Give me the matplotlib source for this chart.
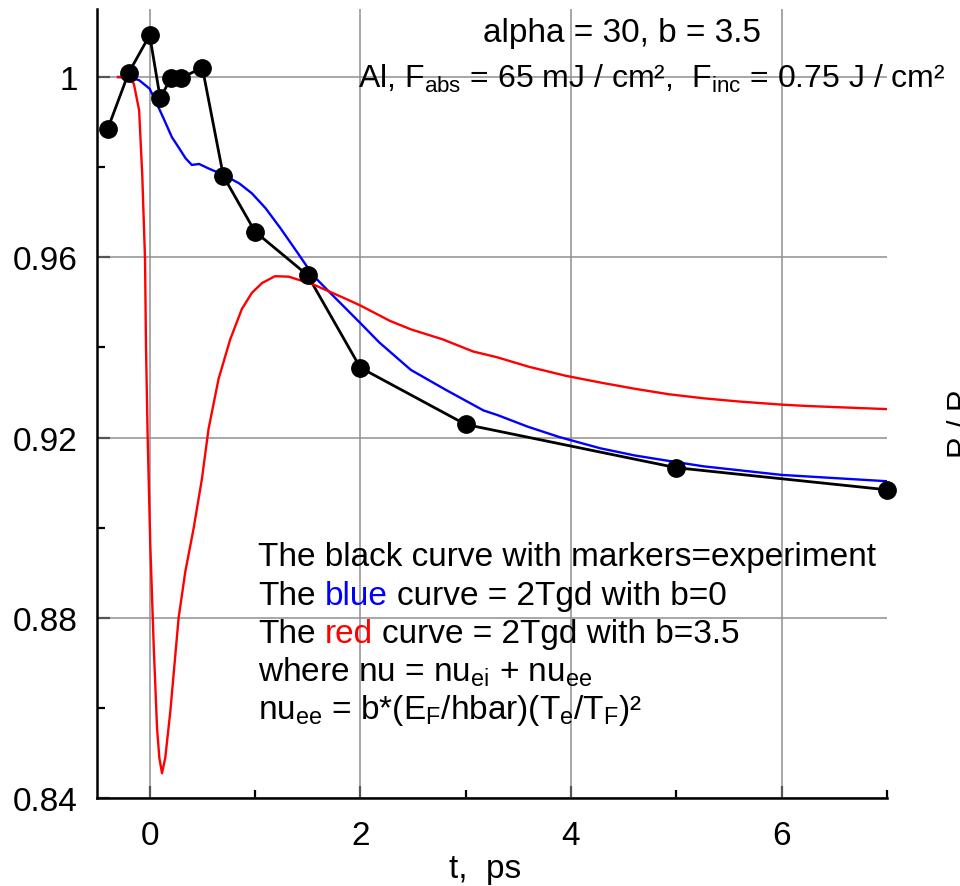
import matplotlib
matplotlib.use("Agg")
import matplotlib.pyplot as plt

plt.rcParams["font.family"] = ["Liberation Sans", "DejaVu Sans"]
plt.rcParams["mathtext.fontset"] = "custom"
plt.rcParams["mathtext.rm"] = "Liberation Sans"
plt.rcParams["mathtext.it"] = "Liberation Sans:italic"

# experiment (black with markers)
t_exp = [-0.4, -0.2, 0.0, 0.1, 0.2, 0.3, 0.5, 0.7, 1.0, 1.5, 2.0, 3.0, 5.0, 7.0]
r_exp = [0.9884, 1.0009, 1.0093, 0.9953, 0.9997, 0.9998, 1.0021, 0.9780,
         0.9657, 0.9560, 0.9355, 0.9229, 0.9133, 0.9084]

# 2Tgd, b = 0 (blue)
t_blue = [-0.30, -0.20, -0.10, 0.00, 0.06, 0.14, 0.21, 0.28, 0.34, 0.40, 0.47,
          0.56, 0.70, 0.85, 0.97, 1.10, 1.24, 1.41, 1.55, 1.71, 2.00, 2.18,
          2.48, 2.81, 3.17, 3.30, 3.59, 3.89, 4.28, 4.61, 4.93, 5.26, 6.00, 7.00]
r_blue = [1.0000, 1.0000, 0.9993, 0.9974, 0.9945, 0.9904, 0.9867, 0.9842,
          0.9820, 0.9805, 0.9807, 0.9797, 0.9783, 0.9764, 0.9742, 0.9709,
          0.9665, 0.9608, 0.9560, 0.9522, 0.9454, 0.9411, 0.9350, 0.9306,
          0.9260, 0.9250, 0.9224, 0.9201, 0.9176, 0.9160, 0.9148, 0.9136,
          0.9117, 0.9103]

# 2Tgd, b = 3.5 (red)
t_red = [-0.30, -0.20, -0.15, -0.10, -0.07, -0.044, -0.035, -0.019, 0.006,
         0.038, 0.07, 0.092, 0.117, 0.148, 0.196, 0.275, 0.338, 0.417, 0.496,
         0.559, 0.654, 0.765, 0.875, 0.97, 1.068, 1.19, 1.32, 1.55, 1.87,
         2.00, 2.28, 2.48, 2.78, 3.07, 3.30, 3.60, 3.95, 4.28, 4.61, 4.93,
         5.26, 5.59, 6.00, 6.24, 7.00]
r_red = [1.0000, 0.9999, 0.9985, 0.9926, 0.9780, 0.9595, 0.9404, 0.9200,
         0.8961, 0.8740, 0.8555, 0.8489, 0.8455, 0.8489, 0.8592, 0.8800,
         0.8902, 0.8998, 0.9108, 0.9219, 0.9330, 0.9418, 0.9485, 0.9521,
         0.9543, 0.9558, 0.9557, 0.9540, 0.9507, 0.9493, 0.9459, 0.9440,
         0.9418, 0.9391, 0.9378, 0.9357, 0.9337, 0.9322, 0.9308, 0.9296,
         0.9287, 0.9280, 0.9273, 0.9270, 0.9263]

x_major = [0, 2, 4, 6]
x_minor = [1, 3, 5, 7]
y_major = [0.84, 0.88, 0.92, 0.96, 1.0]
y_labels = ["0.84", "0.88", "0.92", "0.96", "1"]
y_minor = [0.86, 0.90, 0.94, 0.98]

W, H = 960, 887


def fx(px):
    return px / W


def fy(py):
    return 1 - py / H


fig = plt.figure(figsize=(9.6, 8.87), dpi=100)
ax = fig.add_axes([fx(97), fy(799), fx(887) - fx(97), fy(10) - fy(799)])

ax.plot(t_exp, r_exp, color="black", lw=2.0, zorder=3)
ax.plot(t_blue, r_blue, color="#0000ff", lw=1.7, zorder=4)
ax.plot(t_red, r_red, color="#ff0000", lw=1.7, zorder=5)
ax.plot(t_exp, r_exp, "o", color="black", ms=12.5, zorder=6, clip_on=False)

ax.set_xlim(-0.5, 7.0)
ax.set_ylim(0.84, 1.0151)

ax.set_xticks(x_major)
ax.set_xticks(x_minor, minor=True)
ax.set_yticks(y_major, labels=y_labels)
ax.set_yticks(y_minor, minor=True)

ax.tick_params(which="major", direction="in", length=9, width=1.6,
               color="#555555", labelsize=24)
ax.tick_params(which="minor", direction="in", length=6, width=1.6,
               color="black")
ax.tick_params(axis="y", which="major", pad=14)
ax.tick_params(axis="x", which="major", pad=16)

ax.grid(True, which="major", color="#909090", lw=1.1)
ax.set_axisbelow(True)

for side in ("top", "right"):
    ax.spines[side].set_visible(False)
for side in ("left", "bottom"):
    ax.spines[side].set_linewidth(1.8)

fig.text(fx(485), fy(878), "t,  ps", fontsize=24, ha="center", va="baseline")
fig.text(fx(946), fy(418), "R / R$_\\mathregular{0}$", fontsize=22,
         rotation=90, ha="left", va="center")

fs = 24
fig.text(fx(483), fy(42), "alpha = 30, b = 3.5", fontsize=fs, va="baseline")
fig.text(fx(358), fy(88),
         "Al, F$_\\mathregular{abs}$ = 65 mJ / cm\u00b2,  "
         "F$_\\mathregular{inc}$ = 0.75 J / cm\u00b2",
         fontsize=23, va="baseline")

gap = 6.7  # width of a space, points
x0 = fx(258)
fig.text(x0, fy(566), "The black curve with markers=experiment",
         fontsize=fs, va="baseline")

for base, word, color, rest in [(605, "blue", "#0000ff", "curve = 2Tgd with b=0"),
                                (643, "red", "#ff0000", "curve = 2Tgd with b=3.5")]:
    t1 = fig.text(x0, fy(base), "The", fontsize=fs, va="baseline")
    t2 = ax.annotate(word, xy=(1, 0), xycoords=t1, xytext=(gap, 0),
                     textcoords="offset points", fontsize=fs, color=color,
                     va="bottom")
    ax.annotate(rest, xy=(1, 0), xycoords=t2, xytext=(gap, 0),
                textcoords="offset points", fontsize=fs, va="bottom")

fig.text(x0, fy(682),
         "where nu = nu$_\\mathregular{ei}$ + nu$_\\mathregular{ee}$",
         fontsize=fs, va="baseline")
fig.text(x0, fy(719),
         "nu$_\\mathregular{ee}$ = b*(E$_\\mathregular{F}$/hbar)"
         "(T$_\\mathregular{e}$/T$_\\mathregular{F}$)\u00b2",
         fontsize=fs, va="baseline")

fig.savefig("out.png", dpi=100)
